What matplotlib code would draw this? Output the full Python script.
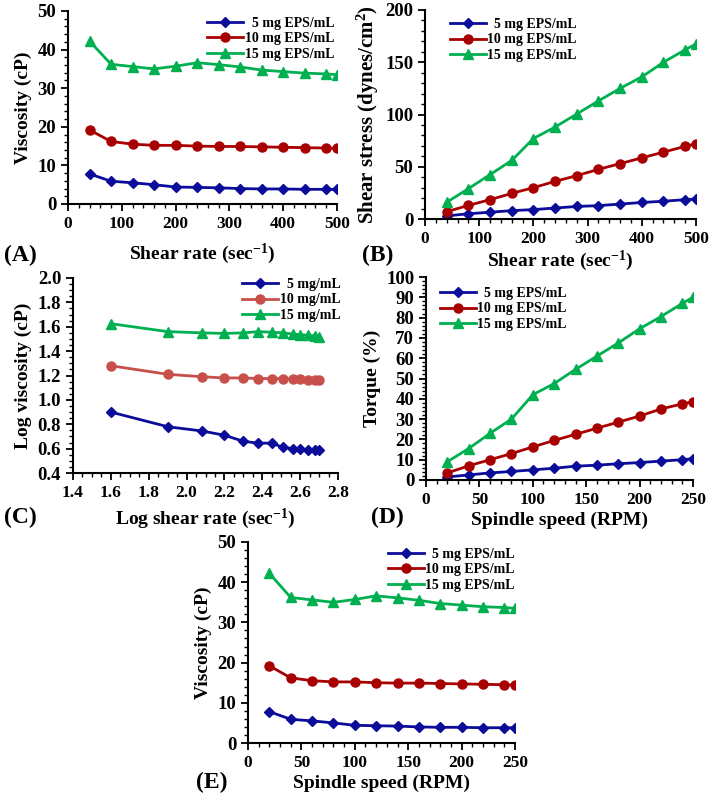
import matplotlib
matplotlib.use("Agg")
import matplotlib.pyplot as plt
from matplotlib.ticker import MultipleLocator

plt.rcParams['font.family'] = ['Liberation Serif', 'DejaVu Serif']
plt.rcParams['font.weight'] = 'bold'
plt.rcParams['axes.labelweight'] = 'bold'
plt.rcParams['mathtext.fontset'] = 'custom'
plt.rcParams['mathtext.rm'] = 'Liberation Serif:bold'
plt.rcParams['mathtext.bf'] = 'Liberation Serif:bold'
plt.rcParams['mathtext.default'] = 'bf'

# data
shear_rate = [40, 80, 120, 160, 200, 240, 280, 320, 360, 400, 440, 480, 500]
rpm = [20, 40, 60, 80, 100, 120, 140, 160, 180, 200, 220, 240, 250]
log_shear = [1.60, 1.90, 2.08, 2.20, 2.30, 2.38, 2.45, 2.51, 2.56, 2.60, 2.64, 2.68, 2.70]

visc_5 = [7.8, 5.9, 5.5, 5.0, 4.4, 4.3, 4.2, 4.0, 3.9, 3.9, 3.8, 3.8, 3.8]
visc_10 = [19.2, 16.2, 15.5, 15.2, 15.2, 15.0, 14.9, 14.9, 14.8, 14.7, 14.6, 14.5, 14.4]
visc_15 = [42.2, 36.2, 35.6, 35.0, 35.7, 36.6, 36.1, 35.5, 34.7, 34.3, 33.9, 33.7, 33.5]

stress_5 = [3, 5, 6.5, 8, 9, 10.5, 12, 12.8, 14.3, 15.8, 17, 18.5, 19.2]
stress_10 = [7, 13, 18.5, 24.5, 30, 36, 41.5, 47.5, 53, 58.5, 64, 69.5, 72]
stress_15 = [16, 29, 42.5, 56, 77, 88, 100.5, 113, 125, 136, 150, 162, 167.5]

logv_5 = [0.90, 0.78, 0.745, 0.71, 0.66, 0.645, 0.645, 0.61, 0.60, 0.60, 0.59, 0.59, 0.59]
logv_10 = [1.28, 1.21, 1.19, 1.18, 1.18, 1.175, 1.175, 1.175, 1.17, 1.17, 1.165, 1.16, 1.16]
logv_15 = [1.625, 1.56, 1.55, 1.545, 1.55, 1.56, 1.555, 1.55, 1.54, 1.535, 1.53, 1.525, 1.52]

torque_5 = [1.5, 2.5, 3.5, 4.2, 5.0, 5.8, 6.8, 7.3, 8.0, 8.6, 9.3, 10.0, 10.5]
torque_10 = [3.5, 7.0, 10.0, 13.0, 16.3, 19.5, 22.5, 25.5, 28.5, 31.5, 35.0, 37.5, 38.5]
torque_15 = [9, 15.5, 23, 30, 42, 47.5, 54.5, 61, 67.5, 74.5, 80.5, 87, 90]

labels_eps = ['  5 mg EPS/mL', '10 mg EPS/mL', '15 mg EPS/mL']
labels_c = ['  5 mg/mL', '10 mg/mL', '15 mg/mL']

BLUE = '#0c0c9a'
RED = '#a80000'
RED_C = '#c8504a'
GREEN = '#00b050'

W, H = 712, 801
fig = plt.figure(figsize=(W / 100, H / 100), dpi=100)


def make_ax(l, r, t, b):
    return fig.add_axes([l / W, 1 - b / H, (r - l) / W, (b - t) / H])


def style(ax, xlim, xmaj, xmin, ylim, ymaj, ymin):
    ax.set_xlim(*xlim)
    ax.set_ylim(*ylim)
    ax.xaxis.set_major_locator(MultipleLocator(xmaj))
    ax.xaxis.set_minor_locator(MultipleLocator(xmin))
    ax.yaxis.set_major_locator(MultipleLocator(ymaj))
    ax.yaxis.set_minor_locator(MultipleLocator(ymin))
    for s in ['top', 'right']:
        ax.spines[s].set_visible(False)
    for s in ['left', 'bottom']:
        ax.spines[s].set_linewidth(1.5)
    ax.tick_params(which='major', direction='out', length=5, width=1.3)
    ax.tick_params(which='minor', direction='out', length=3, width=1.0)
    ax.tick_params(axis='x', labelsize=12.5)
    ax.tick_params(axis='y', labelsize=13.5)
    for lab in ax.get_xticklabels() + ax.get_yticklabels():
        lab.set_fontweight('bold')


def plot3(ax, x, ys, labels, colors, loc, anchor):
    mk = [('D', 5), ('o', 6.5), ('^', 7)]
    for y, lab, c, (m, ms) in zip(ys, labels, colors, mk):
        ax.plot(x, y, color=c, lw=2, marker=m, ms=ms, label=lab)
    ax.legend(loc=loc, bbox_to_anchor=anchor, frameon=False,
              prop={'size': 10, 'weight': 'bold'}, handlelength=2.6,
              handletextpad=0.1, labelspacing=0.2, borderaxespad=0)


SR = 'Shear rate (sec$^{-1}$)'
FS = 14

# (A)
ax = make_ax(68, 337, 11, 204)
plot3(ax, shear_rate, [visc_5, visc_10, visc_15], labels_eps, [BLUE, RED, GREEN],
      'upper right', (1.01, 1.0))
style(ax, (0, 500), 100, 20, (0, 50), 10, 2)
ax.set_ylabel('Viscosity (cP)', fontsize=FS, labelpad=4)
ax.set_xlabel(SR, fontsize=FS, labelpad=7)

# (B)
ax = make_ax(425, 696, 10, 219)
plot3(ax, shear_rate, [stress_5, stress_10, stress_15], labels_eps, [BLUE, RED, GREEN],
      'upper left', (0.07, 0.99))
style(ax, (0, 500), 100, 20, (0, 200), 50, 10)
ax.set_ylabel('Shear stress (dynes/cm$^{2}$)', fontsize=15, labelpad=3)
ax.set_xlabel(SR, fontsize=FS, labelpad=1)

# (C)
ax = make_ax(73, 338, 278, 473)
plot3(ax, log_shear, [logv_5, logv_10, logv_15], labels_c, [BLUE, RED_C, GREEN],
      'upper right', (1.03, 1.03))
style(ax, (1.4, 2.8), 0.2, 0.05, (0.4, 2.0), 0.2, 0.05)
ax.set_ylabel('Log viscosity (cP)', fontsize=FS, labelpad=4)
ax.set_xlabel('Log shear rate (sec$^{-1}$)', fontsize=FS, labelpad=4)

# (D)
ax = make_ax(426, 693, 277, 480)
plot3(ax, rpm, [torque_5, torque_10, torque_15], labels_eps, [BLUE, RED, GREEN],
      'upper left', (0.03, 0.98))
style(ax, (0, 250), 50, 10, (0, 100), 10, 2)
ax.set_ylabel('Torque (%)', fontsize=FS, labelpad=4)
ax.set_xlabel('Spindle speed (RPM)', fontsize=FS, labelpad=3)

# (E)
ax = make_ax(248, 515, 542, 743)
plot3(ax, rpm, [visc_5, visc_10, visc_15], labels_eps, [BLUE, RED, GREEN],
      'upper right', (1.02, 1.0))
style(ax, (0, 250), 50, 10, (0, 50), 10, 2)
ax.set_ylabel('Viscosity (cP)', fontsize=FS, labelpad=4)
ax.set_xlabel('Spindle speed (RPM)', fontsize=FS, labelpad=3)

# panel tags
for txt, x, y in [('(A)', 20, 255), ('(B)', 378, 255), ('(C)', 20, 517),
                  ('(D)', 387, 517), ('(E)', 212, 782)]:
    fig.text(x / W, 1 - y / H, txt, fontsize=17, fontweight='bold',
             ha='center', va='center')

fig.savefig('out.png', dpi=100)
